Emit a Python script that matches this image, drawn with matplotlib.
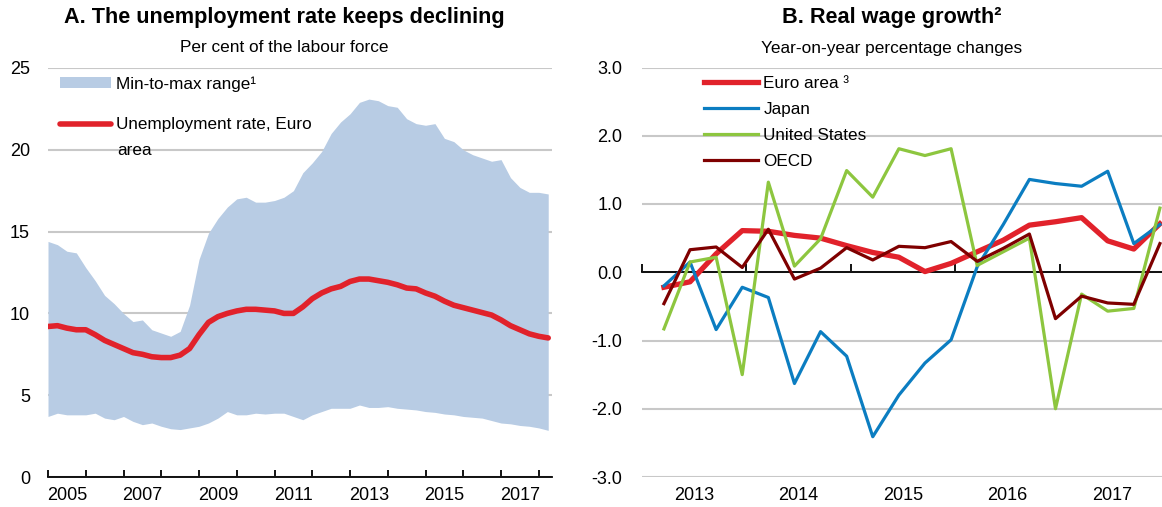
import matplotlib.pyplot as plt
import matplotlib.font_manager as fm
from matplotlib.patches import Patch
from matplotlib.lines import Line2D

# fonts: narrow Arial-like if available
names = {f.name for f in fm.fontManager.ttflist}
narrow = 'Liberation Sans Narrow' if 'Liberation Sans Narrow' in names else 'Liberation Sans'
plt.rcParams['font.family'] = [narrow, 'DejaVu Sans']

# Panel A: quarterly readings, 2005Q1 .. 2018Q2
quarters = [2005 + 0.25 * i for i in range(54)]
range_max = [14.4, 14.2, 13.8, 13.7, 12.8, 12.0, 11.1, 10.6, 10.0, 9.5,
             9.6, 9.0, 8.8, 8.6, 8.9, 10.5, 13.3, 14.9, 15.8, 16.5,
             17.0, 17.1, 16.8, 16.8, 16.9, 17.1, 17.5, 18.6, 19.2, 19.9,
             21.0, 21.7, 22.2, 22.9, 23.1, 23.0, 22.7, 22.6, 21.9, 21.6,
             21.5, 21.6, 20.7, 20.5, 20.0, 19.7, 19.5, 19.3, 19.4, 18.3,
             17.7, 17.4, 17.4, 17.3]
range_min = [3.7, 3.9, 3.8, 3.8, 3.8, 3.9, 3.6, 3.5, 3.7, 3.4,
             3.2, 3.3, 3.1, 2.95, 2.9, 3.0, 3.1, 3.3, 3.6, 4.0,
             3.8, 3.8, 3.9, 3.85, 3.9, 3.9, 3.7, 3.5, 3.8, 4.0,
             4.2, 4.2, 4.2, 4.4, 4.25, 4.25, 4.3, 4.2, 4.15, 4.1,
             4.0, 3.95, 3.85, 3.8, 3.7, 3.65, 3.6, 3.45, 3.3, 3.25,
             3.15, 3.1, 3.0, 2.85]
euro_unemp = [9.2, 9.25, 9.1, 9.0, 9.0, 8.7, 8.35, 8.1, 7.85, 7.6,
              7.5, 7.35, 7.3, 7.3, 7.45, 7.85, 8.7, 9.45, 9.8, 10.0,
              10.15, 10.25, 10.25, 10.2, 10.15, 10.0, 10.0, 10.4, 10.9, 11.25,
              11.5, 11.65, 11.95, 12.1, 12.1, 12.0, 11.9, 11.75, 11.55, 11.5,
              11.25, 11.05, 10.75, 10.5, 10.35, 10.2, 10.05, 9.9, 9.6, 9.25,
              9.0, 8.75, 8.6, 8.5]

# Panel B: quarterly, 2013Q1 .. 2017Q4
wage_dates = [2013.21 + 0.25 * i for i in range(20)]
euro_wage = [-0.22, -0.14, 0.27, 0.61, 0.6, 0.54, 0.5, 0.39, 0.29, 0.22,
             0.01, 0.13, 0.3, 0.47, 0.69, 0.74, 0.8, 0.46, 0.34, 0.71]
japan_wage = [-0.2, 0.15, -0.84, -0.22, -0.37, -1.63, -0.87, -1.23, -2.41, -1.8,
              -1.33, -0.99, 0.08, 0.7, 1.36, 1.3, 1.26, 1.48, 0.42, 0.7]
us_wage = [-0.83, 0.15, 0.22, -1.5, 1.32, 0.09, 0.49, 1.49, 1.1, 1.81,
           1.71, 1.81, 0.1, 0.3, 0.5, -2.0, -0.32, -0.57, -0.53, 0.94]
oecd_wage = [-0.46, 0.33, 0.37, 0.07, 0.63, -0.1, 0.06, 0.36, 0.18, 0.38,
             0.36, 0.45, 0.16, 0.35, 0.56, -0.68, -0.35, -0.45, -0.47, 0.42]

RED = '#e1222b'
BLUE = '#0b7dc1'
GREEN = '#8dc63f'
DARK = '#7f0000'
FILL = '#b8cce4'
GRID = '#c8c8c8'

fig = plt.figure(figsize=(11.62, 5.07), dpi=100)
ax1 = fig.add_axes([48 / 1162, 30 / 507, 504 / 1162, 409 / 507])
ax2 = fig.add_axes([642 / 1162, 30 / 507, 520 / 1162, 409.5 / 507])

# ---- panel A
ax1.fill_between(quarters, range_min, range_max, color=FILL, lw=0, zorder=2)
ax1.plot(quarters, euro_unemp, color=RED, lw=4, solid_capstyle='round', zorder=3)
ax1.set_xlim(2005, 2018.35)
ax1.set_ylim(0, 25)
ax1.set_yticks(range(0, 26, 5))
ax1.yaxis.grid(True, color=GRID, lw=1.5, zorder=0)
ax1.set_axisbelow(True)
for s in ['left', 'right', 'top']:
    ax1.spines[s].set_visible(False)
ax1.spines['bottom'].set_linewidth(1.3)
ax1.spines['bottom'].set_zorder(5)
ax1.set_xticks(range(2005, 2019))
ax1.set_xticklabels([])
ax1.set_xticks([y + 0.5 for y in range(2005, 2018, 2)], minor=True)
ax1.set_xticklabels([str(y) for y in range(2005, 2018, 2)], minor=True)
ax1.tick_params(axis='x', which='major', direction='in', length=5, width=1.3)
ax1.tick_params(axis='x', which='minor', length=0, pad=7, labelsize=13)
ax1.tick_params(axis='y', length=0, pad=13, labelsize=13)

h1 = [Patch(facecolor=FILL, edgecolor='none'),
      Line2D([], [], color=RED, lw=4, solid_capstyle='round')]
ax1.legend(h1, ['Min-to-max range¹', 'Unemployment rate, Euro'],
           loc='upper left', bbox_to_anchor=(0.01, 0.997), frameon=False,
           fontsize=12.3, handlelength=3.0, handleheight=0.55, handletextpad=0.3,
           labelspacing=1.5, borderaxespad=0)
ax1.text(0.137, 0.7995, 'area', transform=ax1.transAxes, va='center',
         ha='left', fontsize=12.3)

# ---- panel B
ax2.plot(wage_dates, euro_wage, color=RED, lw=3.8, label='Euro area ³', zorder=3)
ax2.plot(wage_dates, japan_wage, color=BLUE, lw=2.3, label='Japan', zorder=3)
ax2.plot(wage_dates, us_wage, color=GREEN, lw=2.3, label='United States', zorder=3)
ax2.plot(wage_dates, oecd_wage, color=DARK, lw=2.3, label='OECD', zorder=4)
ax2.set_xlim(2013, 2017.98)
ax2.set_ylim(-3, 3)
ax2.set_yticks(range(-3, 4))
ax2.set_yticklabels(['%.1f' % v for v in range(-3, 4)])
ax2.yaxis.grid(True, color=GRID, lw=1.5, zorder=0)
ax2.set_axisbelow(True)
for s in ['left', 'right', 'top']:
    ax2.spines[s].set_visible(False)
ax2.spines['bottom'].set_position(('data', 0))
ax2.spines['bottom'].set_linewidth(1.3)
ax2.spines['bottom'].set_zorder(2)
ax2.set_xticks(range(2013, 2018))
ax2.set_xticklabels([])
ax2.tick_params(axis='x', direction='in', length=6, width=1.3)
ax2.tick_params(axis='y', length=0, pad=14, labelsize=13)
sec = ax2.secondary_xaxis('bottom')
sec.spines['bottom'].set_visible(False)
sec.set_xticks([y + 0.5 for y in range(2013, 2018)])
sec.set_xticklabels([str(y) for y in range(2013, 2018)])
sec.tick_params(length=0, pad=7, labelsize=13)

ax2.legend(loc='upper left', bbox_to_anchor=(0.107, 0.997), frameon=False,
           fontsize=12.3, handlelength=3.15, handletextpad=0.3,
           labelspacing=0.65, borderaxespad=0)

# titles
fig.text(284 / 1162, 1 - 18 / 507, 'A. The unemployment rate keeps declining',
         ha='center', va='center', fontsize=15.6, fontweight='bold')
fig.text(284 / 1162, 1 - 48 / 507, 'Per cent of the labour force',
         ha='center', va='center', fontsize=12.4)
fig.text(892 / 1162, 1 - 18 / 507, 'B. Real wage growth²',
         ha='center', va='center', fontsize=15.6, fontweight='bold')
fig.text(892 / 1162, 1 - 48 / 507, 'Year-on-year percentage changes',
         ha='center', va='center', fontsize=12.4)

fig.savefig('out.png', dpi=100)
